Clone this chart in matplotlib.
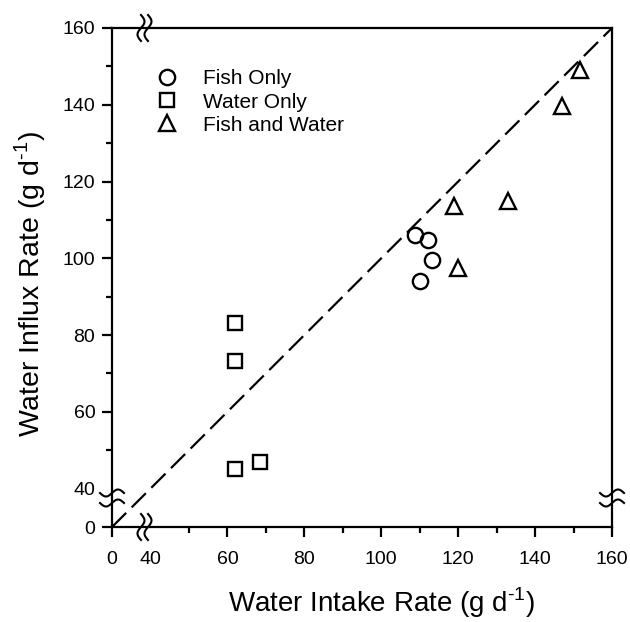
import matplotlib.pyplot as plt
import numpy as np

plt.rcParams['font.family'] = ['Liberation Sans', 'DejaVu Sans']
plt.rcParams['mathtext.fontset'] = 'custom'
plt.rcParams['mathtext.rm'] = 'Liberation Sans'

fish_x = [108.7, 112.1, 113.1, 110.0]
fish_y = [106.0, 104.7, 99.5, 94.0]
water_x = [61.9, 61.9, 62.1, 68.4]
water_y = [83.1, 73.2, 45.2, 47.0]
both_x = [118.9, 119.9, 132.9, 147.0, 151.7]
both_y = [113.5, 97.4, 114.8, 139.7, 149.1]

major_ticks = [0, 40, 60, 80, 100, 120, 140, 160]
minor_ticks = [50, 70, 90, 110, 130, 150]


# squeeze 0-40 into a short stretch (axis break)
def fwd(v):
    v = np.asarray(v, dtype=float)
    return np.where(v < 40, v * 0.25, v - 30)


def inv(u):
    u = np.asarray(u, dtype=float)
    return np.where(u < 10, u * 4, u + 30)


fig = plt.figure(figsize=(6.30, 6.22), dpi=100)
ax = fig.add_axes([112 / 630, 1 - 527 / 622, 500 / 630, 499 / 622])
ax.set_xscale('function', functions=(fwd, inv))
ax.set_yscale('function', functions=(fwd, inv))
ax.set_xlim(0, 160)
ax.set_ylim(0, 160)

ax.plot([0, 160], [0, 160], color='black', lw=1.6, dashes=(9, 3.5))

mk = dict(linestyle='none', markerfacecolor='none', markeredgecolor='black',
          markeredgewidth=1.7, clip_on=False)
ax.plot(fish_x, fish_y, marker='o', markersize=11, label='Fish Only', **mk)
ax.plot(water_x, water_y, marker='s', markersize=10.5, label='Water Only', **mk)
ax.plot(both_x, both_y, marker='^', markersize=12, label='Fish and Water', **mk)

ax.set_xticks(major_ticks)
ax.set_yticks(major_ticks)
ax.set_xticks(minor_ticks, minor=True)
ax.set_yticks(minor_ticks, minor=True)
ax.set_xticklabels([str(t) for t in major_ticks])
ax.set_yticklabels([str(t) for t in major_ticks])
ax.tick_params(which='major', direction='out', length=7, width=1.6, labelsize=14, pad=5)
ax.tick_params(axis='x', which='major', pad=10)
ax.tick_params(which='minor', direction='out', length=4, width=1.6)
ax.xaxis.get_major_ticks()[1].tick1line.set_visible(False)
ax.yaxis.get_major_ticks()[1].tick1line.set_visible(False)
for s in ax.spines.values():
    s.set_linewidth(1.6)

# labels centred over the 40-160 part
ax.text((151 - 112 + 461 / 2) / 500, (527 - 603) / 499, r'Water Intake Rate (g d$^{\text{-}1}$)',
        transform=ax.transAxes, ha='center', va='center', fontsize=20)
ax.text((30 - 112) / 500, (527 - 284) / 499, r'Water Influx Rate (g d$^{\text{-}1}$)',
        transform=ax.transAxes, ha='center', va='center', rotation=90, fontsize=20.5)

ax.legend(loc='upper left', bbox_to_anchor=(0.094, 0.917), frameon=False,
          fontsize=15, handlelength=0.8, handletextpad=1.3, labelspacing=0.2,
          borderpad=0, borderaxespad=0)

# break marks
t = np.linspace(-1, 1, 40)
W, H = 500.0, 499.0
for bx in [141, 148]:
    for by in [527, 28]:
        xs = (bx - 112 + 3.5 * np.sin(np.pi * t)) / W
        ys = (527 - by + 13 * t) / H
        ax.plot(xs, ys, color='black', lw=1.5, transform=ax.transAxes, clip_on=False)
for by in [493, 503]:
    for bx in [112, 612]:
        xs = (bx - 112 + 12 * t) / W
        ys = (527 - by + 3.5 * np.sin(np.pi * t)) / H
        ax.plot(xs, ys, color='black', lw=1.5, transform=ax.transAxes, clip_on=False)

fig.savefig('out.png', dpi=100)
